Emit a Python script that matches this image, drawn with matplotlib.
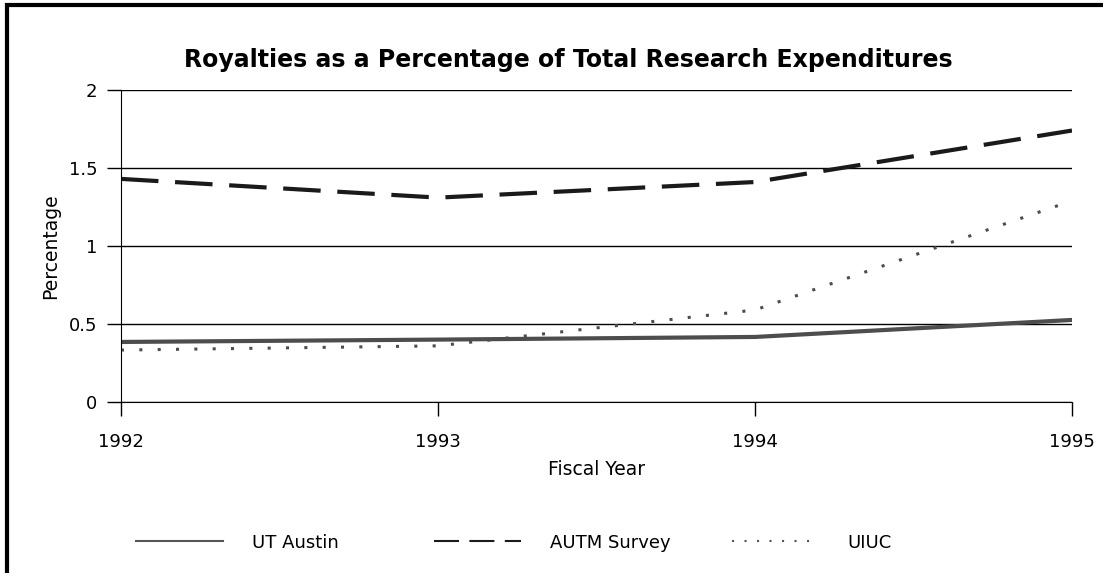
import matplotlib.pyplot as plt
from matplotlib.patches import Rectangle
from matplotlib.lines import Line2D

years = [1992, 1993, 1994, 1995]
ut_austin = [0.385, 0.40, 0.417, 0.526]
autm = [1.43, 1.31, 1.41, 1.74]
uiuc = [0.333, 0.36, 0.59, 1.29]
series_names = ["UT Austin", "AUTM Survey", "UIUC"]

plt.rcParams['font.family'] = ['DejaVu Sans']

fig = plt.figure(figsize=(11.03, 5.73), dpi=100)
ax = fig.add_axes([0.1097, 0.2984, 0.8622, 0.5446])

# outer frame, only top and left edges show
fig.patches.append(Rectangle((0.0065, -0.2), 1.2, 1.191, transform=fig.transFigure,
                             fill=False, edgecolor='black', linewidth=3))

ax.plot(years, ut_austin, color='#4d4d4d', linewidth=3)
ax.plot(years, autm, color='#1a1a1a', linewidth=3, dashes=(9, 4))
ax.plot(years, uiuc, color='#4d4d4d', linewidth=2.2, linestyle=(0, (1, 5)))

ax.set_xlim(1992, 1995)
ax.set_ylim(0, 2)
ax.set_xticks(years)
ax.set_yticks([0, 0.5, 1, 1.5, 2])
ax.set_yticklabels(['0', '0.5', '1', '1.5', '2'])
ax.yaxis.grid(True, color='black', linewidth=1)
ax.set_axisbelow(True)
for s in ['top', 'right']:
    ax.spines[s].set_visible(False)
ax.tick_params(axis='both', direction='out', length=10, width=1, labelsize=13)
ax.tick_params(axis='y', pad=7)
ax.tick_params(axis='x', pad=12)

fig.text(0.515, 0.895, "Royalties as a Percentage of Total Research Expenditures",
         fontsize=17, fontweight='bold', ha='center', va='center')
ax.set_xlabel("Fiscal Year", fontsize=13.5, labelpad=7)
ax.set_ylabel("Percentage", fontsize=13.5, labelpad=6)

# legend: three separate entries, thin lines
handles = [Line2D([], [], color='#555555', linewidth=1.5),
           Line2D([], [], color='#1a1a1a', linewidth=1.5, dashes=(12, 5)),
           Line2D([], [], color='#555555', linewidth=1.5, linestyle=(0, (1, 5)))]
xs = [0.109, 0.379, 0.649]
for h, name, x in zip(handles, series_names, xs):
    fig.legend([h], [name], loc='center left', bbox_to_anchor=(x, 0.053), frameon=False,
               fontsize=13, handlelength=4.8, handletextpad=1.6)

plt.savefig("out.png", dpi=100)
